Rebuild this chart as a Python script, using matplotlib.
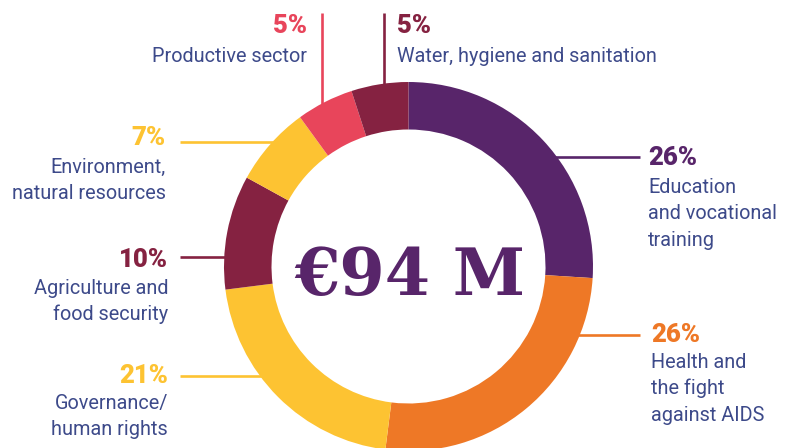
import matplotlib
matplotlib.use("Agg")
import matplotlib.pyplot as plt
import numpy as np

W, H = 785, 448

# Data: clockwise from 12 o'clock
categories = ["Education\nand vocational\ntraining",
              "Health and\nthe fight\nagainst AIDS",
              "Governance/\nhuman rights",
              "Agriculture and\nfood security",
              "Environment,\nnatural resources",
              "Productive sector",
              "Water, hygiene and sanitation"]
shares = [26, 26, 21, 10, 7, 5, 5]
total_label = "€94 M"

COLORS = ["#58256a", "#ee7826", "#fdc332", "#852241", "#fdc332", "#e8455b", "#852241"]
TEXT_COLOR = "#3d4a8a"

# layout (image pixel coords, y downwards): (kind, line_coord, line_end, text_x, pct_baseline, first_baseline, ha)
LAYOUT = [
    ("h", 157, 640, 648, 165, 193, "left"),
    ("h", 335, 640, 651, 342, 368, "left"),
    ("h", 376, 180, 168, 383, 409, "right"),
    ("h", 257, 180, 168, 267, 294, "right"),
    ("h", 142, 180, 166, 145, 173, "right"),
    ("v", 322, 13, 307, 33, 62, "right"),
    ("v", 384, 13, 397, 33, 62, "left"),
]
LINE_STEP = 26.3

CX, CY = 408.5, 266.5
R_OUT, R_IN = 184.5, 137.0


def Y(y):
    return H - y


fig = plt.figure(figsize=(W / 100, H / 100), dpi=100)
ax = fig.add_axes([0, 0, 1, 1])

ax.pie(shares, colors=COLORS, startangle=90, counterclock=False,
       radius=R_OUT, center=(CX, Y(CY)),
       wedgeprops=dict(width=R_OUT - R_IN, linewidth=0))
ax.set_xlim(0, W)
ax.set_ylim(0, H)
ax.set_aspect("equal")
ax.axis("off")

for cat, pct, col, lay in zip(categories, shares, COLORS, LAYOUT):
    kind, lc, lend, tx, pb, fb, ha = lay
    if kind == "h":
        dx = np.sqrt(max(R_OUT ** 2 - (lc - CY) ** 2, 0))
        xr = CX + dx - 4 if lend > CX else CX - dx + 4
        ax.plot([lend, xr], [Y(lc), Y(lc)], color=col, lw=1.9,
                solid_capstyle="butt", zorder=0)
    else:
        dy = np.sqrt(max(R_OUT ** 2 - (lc - CX) ** 2, 0))
        ax.plot([lc, lc], [Y(lend), Y(CY - dy + 4)], color=col, lw=1.9,
                solid_capstyle="butt", zorder=0)
    ax.text(tx, Y(pb), f"{pct}%", ha=ha, va="baseline", color=col,
            fontsize=18.5, fontweight="heavy", family="Roboto")
    for i, line in enumerate(cat.split("\n")):
        ax.text(tx, Y(fb + i * LINE_STEP), line, ha=ha, va="baseline",
                color=TEXT_COLOR, fontsize=14.3, fontweight="normal",
                family="Roboto")

ax.text(410, Y(295), total_label, ha="center", va="baseline",
        color="#58256a", fontsize=47, fontweight="bold", family="DejaVu Serif")

fig.savefig("out.png", dpi=100)
